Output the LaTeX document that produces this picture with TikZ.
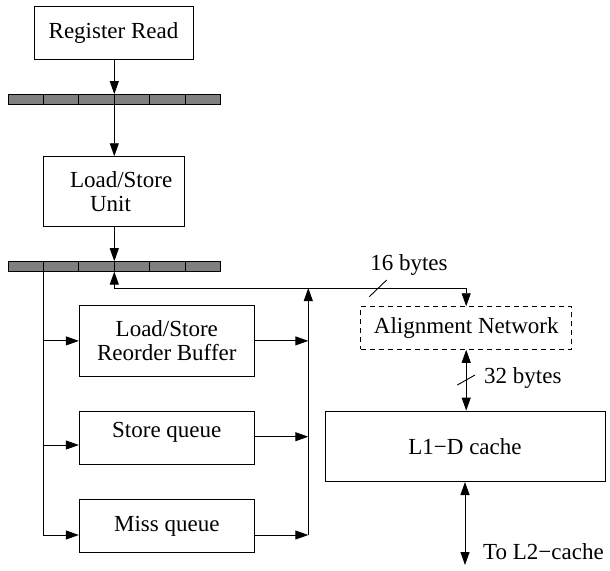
\documentclass[tikz,border=0pt]{standalone}
\usepackage{fontspec}
\setmainfont{Liberation Serif}
\usetikzlibrary{arrows.meta,calc}
\begin{document}
\begin{tikzpicture}[x=1pt,y=-1pt,
  every node/.style={font=\fontsize{23}{24}\selectfont},
  box/.style={draw=black,line width=0.9pt,rectangle,inner sep=0pt,align=center},
  preg/.style={draw=black,line width=0.9pt,fill=black!50,rectangle,inner sep=0pt,minimum width=211.7pt,minimum height=9.5pt},
  arr/.style={line width=0.9pt,-{Triangle[length=13pt,width=9pt]}},
  arrtwo/.style={line width=0.9pt,{Triangle[length=13pt,width=9pt]}-{Triangle[length=13pt,width=9pt]}},
  ln/.style={line width=0.9pt},
  lbl/.style={inner sep=0pt}]
\useasboundingbox (0,0) rectangle (610,570);

% nodes
\node[box,minimum width=159pt,minimum height=52.6pt] (rr) at (113.5,33) {Register Read};
\node[preg] (p1) at (114.15,99.3) {};
\node[box,minimum width=141pt,minimum height=70pt,text width=141pt,align=left] (lsu) at (113.8,191.7)
  {\hspace*{26.7pt}Load/Store\\\hspace*{46.7pt}Unit};
\node[preg] (p2) at (114.15,266.4) {};
\node[box,minimum width=175pt,minimum height=70.3pt] (lsrb) at (166.8,340.9) {Load/Store\\Reorder Buffer};
\node[box,minimum width=175pt,minimum height=52.3pt,text depth=17pt] (sq) at (166.8,437.9) {Store queue};
\node[box,minimum width=175pt,minimum height=53.4pt] (mq) at (166.8,526) {Miss queue};
\node[box,dashed,dash pattern=on 5pt off 4pt,minimum width=211pt,minimum height=42.6pt] (an) at (466.2,328) {Alignment Network};
\node[box,minimum width=280pt,minimum height=70.5pt] (l1) at (465,446.3) {L1\symbol{"2212}D cache};

% register cell dividers
\foreach \i in {1,...,5}{
  \draw[ln] ($(p1.south west)!\i/6!(p1.south east)$) -- ($(p1.north west)!\i/6!(p1.north east)$);
  \draw[ln] ($(p2.south west)!\i/6!(p2.south east)$) -- ($(p2.north west)!\i/6!(p2.north east)$);
}

% coordinates
\coordinate (bl) at (43.3,535);
\coordinate (col) at (308.3,535);
\coordinate (hl) at (114.3,288);
\coordinate (l2) at (465,565);

% top chain
\draw[arr] (rr.south -| hl) -- (hl |- p1.north);
\draw[arr] (hl |- p1.south) -- (hl |- lsu.north);
\draw[arr] (hl |- lsu.south) -- (hl |- p2.north);

% distribution to queues
\draw[arr] (p2.south -| bl) -- (bl) -- (mq.west |- bl);
\draw[arr] (bl |- lsrb.west) -- (lsrb.west);
\draw[arr] (bl |- 0,445) -- (sq.west |- 0,445);

% outputs to collector
\draw[arr] (lsrb.east) -- (lsrb.east -| col);
\draw[arr] (sq.east |- 0,436.7) -- (col |- 0,436.7);
\draw[arr] (mq.east |- col) -- (col);
\draw[arr] (col) -- (col |- hl);

% horizontal bus
\draw[arr] (hl) -- (hl |- p2.south);
\draw[arr] (hl) -| (an.north);
\draw[ln] (369.3,296.7) -- (386.7,280);
\node[lbl] (b16) at (409,265) {16 bytes};

% alignment to L1
\draw[arrtwo] (an.south) -- (an.south |- l1.north);
\draw[ln] (457.3,385) -- (475,375);
\node[lbl,anchor=west] (b32) at (484,378) {32 bytes};

% L1 to L2
\draw[arrtwo] (l1.south) -- (l2);
\node[lbl,anchor=west] (tol2) at (483,552) {To L2\symbol{"2212}cache};
\end{tikzpicture}
\end{document}
